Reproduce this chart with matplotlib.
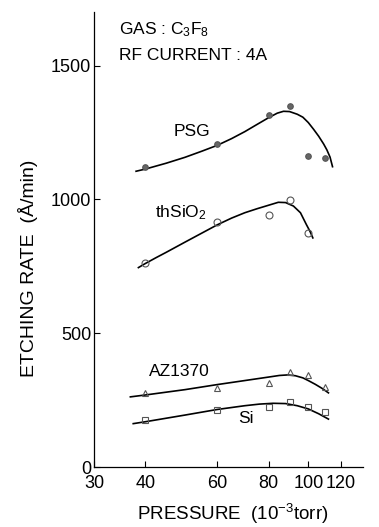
import matplotlib
matplotlib.use("Agg")
import matplotlib.pyplot as plt
from matplotlib.ticker import FixedLocator, NullLocator, FixedFormatter

plt.rcParams['font.family'] = ['Liberation Sans', 'DejaVu Sans']
plt.rcParams['mathtext.fontset'] = 'custom'
plt.rcParams['mathtext.rm'] = 'Liberation Sans'
plt.rcParams['mathtext.it'] = 'Liberation Sans'

# measured points
pressure = [40, 60, 80, 90, 100, 110]
psg = [1121, 1207, 1316, 1350, 1163, 1155]
thsio2_p = [40, 60, 80, 90, 100]
thsio2 = [763, 916, 942, 998, 875]
az1370 = [277, 295, 314, 355, 344, 299]
si = [176, 213, 224, 243, 224, 206]

# fitted curves
psg_cx = [38, 40, 45, 50, 55, 60, 65, 70, 75, 80, 84, 87, 90, 94, 97, 100, 103, 106, 109, 111, 113, 114.6]
psg_cy = [1105, 1113, 1135, 1157, 1180, 1202, 1227, 1253, 1280, 1305, 1322, 1329, 1328, 1318, 1307, 1287, 1262, 1236, 1207, 1185, 1158, 1122]
th_cx = [38.5, 40, 42.5, 45, 50, 55, 60, 65, 70, 75, 80, 84.5, 88, 92, 95.7, 99, 101, 102.6]
th_cy = [745, 760, 782, 802, 840, 874, 905, 930, 950, 965, 978, 989, 988, 975, 950, 905, 880, 856]
az_cx = [36.8, 40, 50, 60, 70, 80, 85, 89, 93, 97, 100, 104, 108, 112]
az_cy = [262, 269, 289, 308, 323, 336, 342, 344, 341, 333, 323, 309, 294, 277]
si_cx = [37.4, 40, 50, 60, 70, 76, 82, 88, 94, 100, 106, 112]
si_cy = [162, 169, 194, 215, 229, 235, 238, 237, 229, 217, 199, 179]

xticks = [30, 40, 60, 80, 100, 120]
yticks = [0, 500, 1000, 1500]

fig = plt.figure(figsize=(3.79, 5.27), dpi=100)
ax = fig.add_axes([94/379, 1-467/527, 269/379, 455/527])
ax.set_xscale('log')
ax.set_xlim(30, 136)
ax.set_ylim(0, 1700)

lw = 1.2
ax.plot(psg_cx, psg_cy, color='black', lw=lw)
ax.plot(th_cx, th_cy, color='black', lw=lw)
ax.plot(az_cx, az_cy, color='black', lw=lw)
ax.plot(si_cx, si_cy, color='black', lw=lw)

mk = dict(linestyle='none', markeredgecolor='#555555', markeredgewidth=0.8, zorder=3)
ax.plot(pressure, psg, marker='o', markersize=4, markerfacecolor='#666666', **mk)
ax.plot(thsio2_p, thsio2, marker='o', markersize=5, markerfacecolor='none', **mk)
ax.plot(pressure, az1370, marker='^', markersize=5, markerfacecolor='none', **mk)
ax.plot(pressure, si, marker='s', markersize=4.5, markerfacecolor='none', **mk)

ax.xaxis.set_major_locator(FixedLocator(xticks))
ax.xaxis.set_major_formatter(FixedFormatter([str(t) for t in xticks]))
ax.xaxis.set_minor_locator(NullLocator())
ax.set_yticks(yticks)
ax.tick_params(axis='both', direction='in', length=4, width=0.8, labelsize=13, colors='black')
ax.tick_params(axis='x', pad=6)
ax.tick_params(axis='y', pad=2)
for s in ['top', 'right']:
    ax.spines[s].set_visible(False)
for s in ['left', 'bottom']:
    ax.spines[s].set_linewidth(0.9)

ax.text(52, 1252, 'PSG', fontsize=12.5, ha='center', va='center')
ax.text(42.3, 950, r'thSiO$_2$', fontsize=12.5, ha='left', va='center')
ax.text(40.8, 357, 'AZ1370', fontsize=12.5, ha='left', va='center')
ax.text(70.4, 183, 'Si', fontsize=12.5, ha='center', va='center')

fig.text(119/379, 1-30/527, r'GAS : C$_3$F$_8$', fontsize=12.5, ha='left', va='center')
fig.text(119/379, 1-55/527, 'RF CURRENT : 4A', fontsize=12.5, ha='left', va='center')

fig.text(233/379, 1-514/527, r'PRESSURE  (10$^{-3}$torr)', fontsize=13.5, ha='center', va='center')
fig.text(28/379, 1-268/527, 'ETCHING RATE  (Å/min)', fontsize=14, ha='center', va='center', rotation=90)

fig.savefig('out.png', dpi=100)
